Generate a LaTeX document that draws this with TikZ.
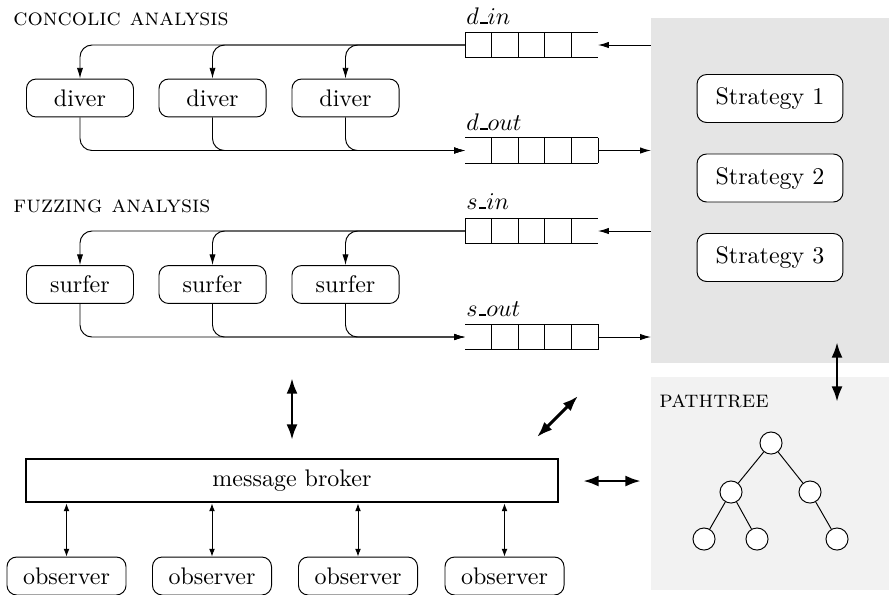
\documentclass[tikz,border=0pt]{standalone}
\usetikzlibrary{arrows.meta,calc}
\newcommand\qusc{\mbox{\kern.06em\vbox{\hrule width.3em height 0.7pt}}}
\begin{document}
\begin{tikzpicture}[x=0.4167pt,y=-0.4167pt,
  rbox/.style={draw,rounded corners=4pt,inner sep=0pt,minimum width=44.6pt,minimum height=15.8pt},
  obsbox/.style={rbox,minimum width=49.6pt},
  stratbox/.style={rbox,fill=white,minimum width=60.8pt,minimum height=20pt},
  queue/.style={inner sep=0pt,outer sep=0pt,minimum width=55.4pt,minimum height=10.8pt},
  lbl/.style={anchor=base west,inner sep=0pt},
  thinarrow/.style={-{Latex[length=4.5pt,width=2.6pt]}},
  obsarrow/.style={{Latex[length=3.2pt,width=2.4pt]}-{Latex[length=3.2pt,width=2.4pt]}},
  bigarrow/.style={line width=1.2pt,{Latex[length=6.5pt,width=4.6pt]}-{Latex[length=6.5pt,width=4.6pt]}},
  tn/.style={circle,draw,fill=white,inner sep=0pt,minimum size=9.2pt},
  conn/.style={thinarrow,rounded corners=5pt}
]
\path[use as bounding box] (0,0) rectangle (889,594);

% background panels
\node[fill=gray!20,inner sep=0pt,outer sep=0pt,minimum width=99.2pt,minimum height=143.8pt] (strat) at (770,190.5) {};
\node[fill=gray!10,inner sep=0pt,outer sep=0pt,minimum width=99.2pt,minimum height=88.8pt] (pt) at (770,483.5) {};

% titles
\node[lbl] (t1lbl) at (13,25) {\textsc{concolic analysis}};
\node[lbl] (t2lbl) at (13,212) {\textsc{fuzzing analysis}};
\node[lbl] (t3lbl) at (659,407) {\textsc{pathtree}};

% workers
\node[rbox] (dv1) at (80,98) {diver};
\node[rbox] (dv2) at (212.5,98) {diver};
\node[rbox] (dv3) at (345.5,98) {diver};
\node[rbox] (sf1) at (80,284.5) {surfer};
\node[rbox] (sf2) at (212.5,284.5) {surfer};
\node[rbox] (sf3) at (345.5,284.5) {surfer};

% strategies
\node[stratbox] (st1) at (770,98.5) {Strategy 1};
\node[stratbox] (st2) at (770,178) {Strategy 2};
\node[stratbox] (st3) at (770,257.5) {Strategy 3};

% queues
\node[queue] (din) at (531.5,45) {};
\node[queue] (dout) at (531.5,150.5) {};
\node[queue] (sin) at (531.5,231) {};
\node[queue] (sout) at (531.5,337) {};
\foreach \q in {din,dout,sin,sout}{
  \draw (\q.north west) -- (\q.north east) (\q.south west) -- (\q.south east);
  \foreach \f in {0.2,0.4,0.6,0.8}
    \draw ($(\q.north west)!\f!(\q.north east)$) -- ($(\q.south west)!\f!(\q.south east)$);
}
\draw (din.north west) -- (din.south west);
\draw (sin.north west) -- (sin.south west);
\draw (dout.north east) -- (dout.south east);
\draw (sout.north east) -- (sout.south east);

\node[lbl] (ldin) at (466,24) {$d$\qusc$in$};
\node[lbl] (ldout) at (466,130) {$d$\qusc$out$};
\node[lbl] (lsin) at (466,209) {$s$\qusc$in$};
\node[lbl] (lsout) at (466,316) {$s$\qusc$out$};

% worker connectors
\foreach \n in {dv1,dv2,dv3}{
  \draw[conn] (din.west) -| (\n.north);
  \draw[conn] (\n.south) |- (dout.west);
}
\foreach \n in {sf1,sf2,sf3}{
  \draw[conn] (sin.west) -| (\n.north);
  \draw[conn] (\n.south) |- (sout.west);
}

% queue <-> strategies
\draw[thinarrow] (strat.west |- din.east) -- (din.east);
\draw[thinarrow] (dout.east) -- (strat.west |- dout.east);
\draw[thinarrow] (strat.west |- sin.east) -- (sin.east);
\draw[thinarrow] (sout.east) -- (strat.west |- sout.east);

% message broker and observers
\node[draw,line width=1.2pt,inner sep=0pt,minimum width=221.7pt,minimum height=17.9pt] (broker) at (292,480.5) {message broker};
\node[obsbox] (ob1) at (66.5,576) {observer};
\node[obsbox] (ob2) at (212,576) {observer};
\node[obsbox] (ob3) at (358,576) {observer};
\node[obsbox] (ob4) at (504.5,576) {observer};
\foreach \n in {ob1,ob2,ob3,ob4}
  \draw[obsarrow] (\n.north |- broker.south) -- (\n.north);

% big arrows
\coordinate (a1) at (837,342); \coordinate (a2) at (837,402);
\coordinate (b1) at (292,378); \coordinate (b2) at (292,440);
\coordinate (c1) at (537,437); \coordinate (c2) at (578,396);
\coordinate (e1) at (583,481); \coordinate (e2) at (641,481);
\draw[bigarrow] (a1) -- (a2);
\draw[bigarrow] (b1) -- (b2);
\draw[bigarrow] (c1) -- (c2);
\draw[bigarrow] (e1) -- (e2);

% path tree
\node[tn] (n0) at (771,443) {};
\node[tn] (n1) at (731,492) {};
\node[tn] (n2) at (810,492) {};
\node[tn] (n3) at (704,539) {};
\node[tn] (n4) at (757,539) {};
\node[tn] (n5) at (837,539) {};
\draw (n0) -- (n1) (n0) -- (n2) (n1) -- (n3) (n1) -- (n4) (n2) -- (n5);
\end{tikzpicture}
\end{document}
